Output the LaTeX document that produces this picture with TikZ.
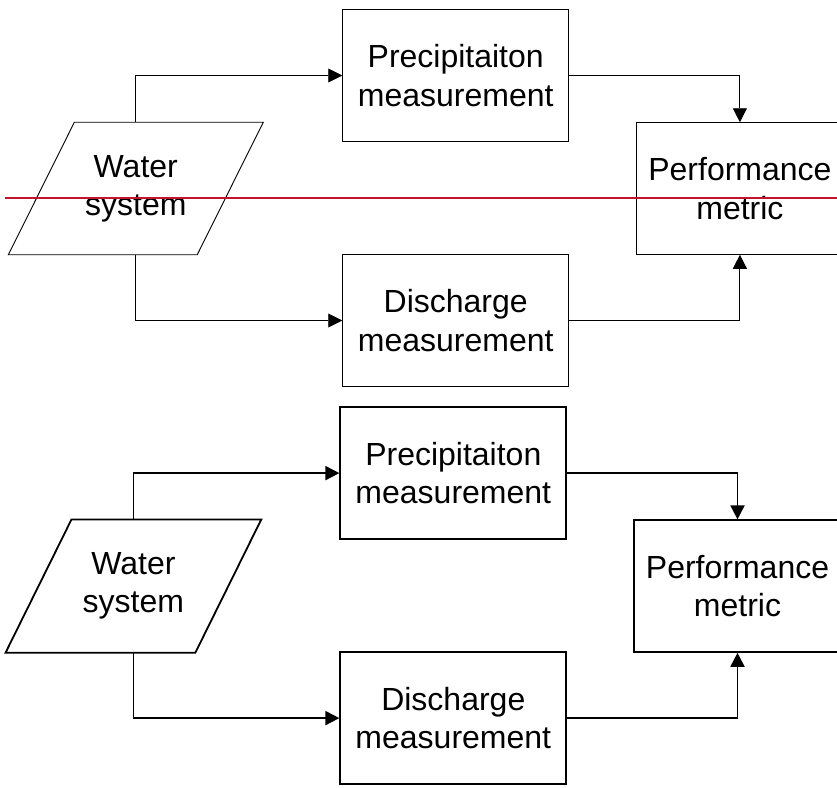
\documentclass[tikz,border=0pt]{standalone}
\usepackage{fontspec}
\setmainfont{Liberation Sans}
\usetikzlibrary{arrows.meta}

\definecolor{cutred}{RGB}{196,18,48}

\tikzset{
  x=1pt, y=-1pt,
  label font/.style={font=\fontsize{32}{38.3}\selectfont, align=center},
  procbox/.style={draw, rectangle, inner sep=0pt, label font,
                  minimum width=226pt, minimum height=131.6pt},
  iobox/.style={rectangle, inner sep=0pt, label font,
                minimum width=188pt, minimum height=131.6pt},
  flowarrow/.style={-{Triangle[length=14pt,width=14pt]}},
  cutline/.style={draw=cutred, line width=2pt}
}

% one copy of the flow chart; #1 = node name prefix
\newcommand\drawflow[1]{%
  \node[iobox] (#1ws) at (135.8,188.5) {Water\\system};
  \draw ([xshift=33pt]#1ws.north west) -- ([xshift=33pt]#1ws.north east)
     -- ([xshift=-33pt]#1ws.south east) -- ([xshift=-33pt]#1ws.south west) -- cycle;
  \node[procbox] (#1pm) at (455.7,75.5)  {Precipitaiton\\measurement};
  \node[procbox] (#1dm) at (455.7,320.5) {Discharge\\measurement};
  \node[procbox, minimum width=206.4pt] (#1pf) at (739.9,188.5) {Performance\\metric};
  \draw[flowarrow] (#1ws.north) |- (#1pm.west);
  \draw[flowarrow] (#1ws.south) |- (#1dm.west);
  \draw[flowarrow] (#1pm.east) -| (#1pf.north);
  \draw[flowarrow] (#1dm.east) -| (#1pf.south);
}

\begin{document}
\begin{tikzpicture}
  \clip (0,0) rectangle (837,787);

  % thin-line version
  \begin{scope}[line width=0.9pt]
    \drawflow{a}
  \end{scope}

  % thick-line version
  \begin{scope}[shift={(-2.4,397.6)}, line width=1.8pt]
    \drawflow{b}
  \end{scope}

  % red cut line across the upper chart
  \coordinate (cutL) at (5,198);
  \coordinate (cutR) at (837,198);
  \draw[cutline] (cutL) -- (cutR);
\end{tikzpicture}
\end{document}
